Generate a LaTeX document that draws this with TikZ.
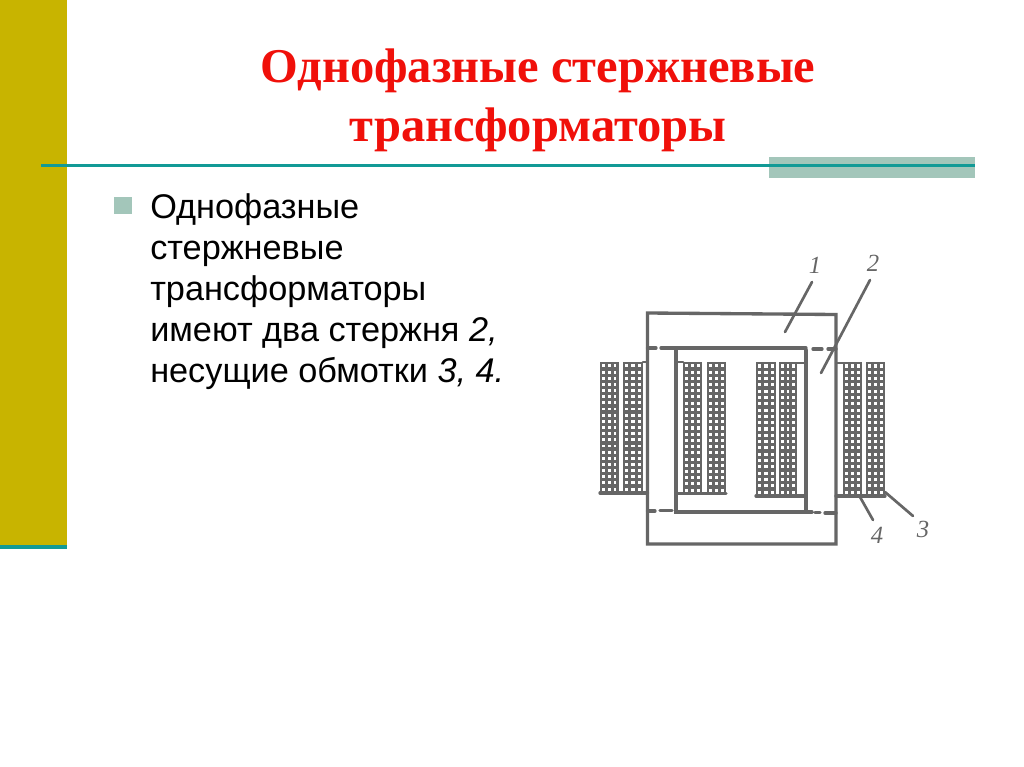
\documentclass[tikz,border=0pt]{standalone}
\usepackage{fontspec}
\setmainfont{Liberation Sans}
\newfontfamily\titlefont{Liberation Serif}
\definecolor{olivebar}{HTML}{C8B400}
\definecolor{tealline}{HTML}{129A96}
\definecolor{palegreen}{HTML}{A3C6BA}
\definecolor{titlered}{HTML}{F0100A}
\definecolor{inkgrey}{HTML}{666666}
\tikzset{
  titletext/.style={font=\titlefont\bfseries\fontsize{36.4}{44.5}\selectfont,text=titlered,align=center,inner sep=0pt},
  bodytext/.style={font=\fontsize{25.7}{30.8}\selectfont,text=black,align=left,inner sep=0pt,anchor=north west},
  ink/.style={draw=inkgrey,line width=2.5pt,line cap=round},
  inkthin/.style={draw=inkgrey,line width=1.8pt,line cap=round},
  leader/.style={draw=inkgrey,line width=2pt,line cap=round},
  numlabel/.style={font=\titlefont\itshape\fontsize{18.5}{18.5}\selectfont,text=inkgrey,inner sep=0pt},
}
% \coilbar{x0}{x1}{y0}{y1}
\newcommand{\coilbar}[4]{%
  \fill[inkgrey] (#1,#3) rectangle (#2,#4);
  \pgfmathsetmacro{\cw}{(#2-#1-1.6)/3}
  \pgfmathsetmacro{\ch}{(#4-#3-1.6)/21}
  \foreach \i in {0,1,2}{
    \foreach \j in {0,...,20}{
      \fill[white] ({#1+0.8+\i*\cw+1.5},{#3+0.8+\j*\ch+1.6}) rectangle ++({\cw-3},{\ch-3.2});
    }
  }
}
\begin{document}
\begin{tikzpicture}[x=0.75pt,y=-0.75pt]
\useasboundingbox (0,0) rectangle (1024,767);
\fill[white] (0,0) rectangle (1024,767);
% slide furniture
\fill[olivebar] (0,0) rectangle (66.5,545);
\fill[tealline] (0,545) rectangle (66.5,549);
\fill[palegreen] (769,157) rectangle (975,178);
\coordinate (ruleL) at (41,165.5);
\coordinate (ruleR) at (975,165.5);
\draw[tealline,line width=1.6pt] (ruleL) -- (ruleR);
\node[titletext] (title) at (538,100.5) {Однофазные стержневые\\трансформаторы};
\fill[palegreen] (114,197) rectangle (132,214);
\node[bodytext] (body) at (150,193.5) {Однофазные\\стержневые\\трансформаторы\\имеют два стержня {\itshape 2,}\\несущие обмотки {\itshape 3, 4.}};
% windings
\coilbar{600}{618.5}{362}{493}
\coilbar{623}{643}{362}{493}
\coilbar{683}{702}{362}{494}
\coilbar{707}{726}{362}{494}
\coilbar{756}{776}{362}{496}
\coilbar{779}{797}{362}{496}
\coilbar{843}{862}{362}{496}
\coilbar{866}{885}{362}{496}
% core
\draw[ink] (647.5,544) -- (647.5,313) -- (836,314.5) -- (836,544) -- cycle;
\draw[ink] (676,350) -- (676,512) -- (806,512) -- (806,350);
\draw[ink] (647.5,348) -- (656,348) (661,348) -- (806,348) (813,349) -- (822,349) (828,349) -- (836,349);
\draw[ink] (647.5,511) -- (655,511) (660,510.5) -- (672,510.5);
\draw[ink] (806,512) -- (812,512) (815,512.5) -- (820,512.5) (825,513) -- (836,513);
% coil ties
\draw[inkthin] (643,362) -- (647.5,362) (676,362) -- (683,362) (797,363) -- (806,363) (836,363) -- (843,363);
\draw[ink] (600,493) -- (647.5,493) (676,493.5) -- (726,493.5) (756,496) -- (806,496) (836,496) -- (885,496);
% labels and leaders
\node[numlabel] (n1) at (815,265) {1};
\node[numlabel] (n2) at (873,263) {2};
\node[numlabel] (n3) at (923,529) {3};
\node[numlabel] (n4) at (877,535) {4};
\coordinate (a1a) at (812,282); \coordinate (a1b) at (785,332);
\coordinate (a2a) at (870,280); \coordinate (a2b) at (821,373);
\coordinate (a3a) at (913,516); \coordinate (a3b) at (885,492);
\coordinate (a4a) at (873,520); \coordinate (a4b) at (860,497);
\draw[leader] (a1a) -- (a1b);
\draw[leader] (a2a) -- (a2b);
\draw[leader] (a3a) -- (a3b);
\draw[leader] (a4a) -- (a4b);
\end{tikzpicture}
\end{document}
